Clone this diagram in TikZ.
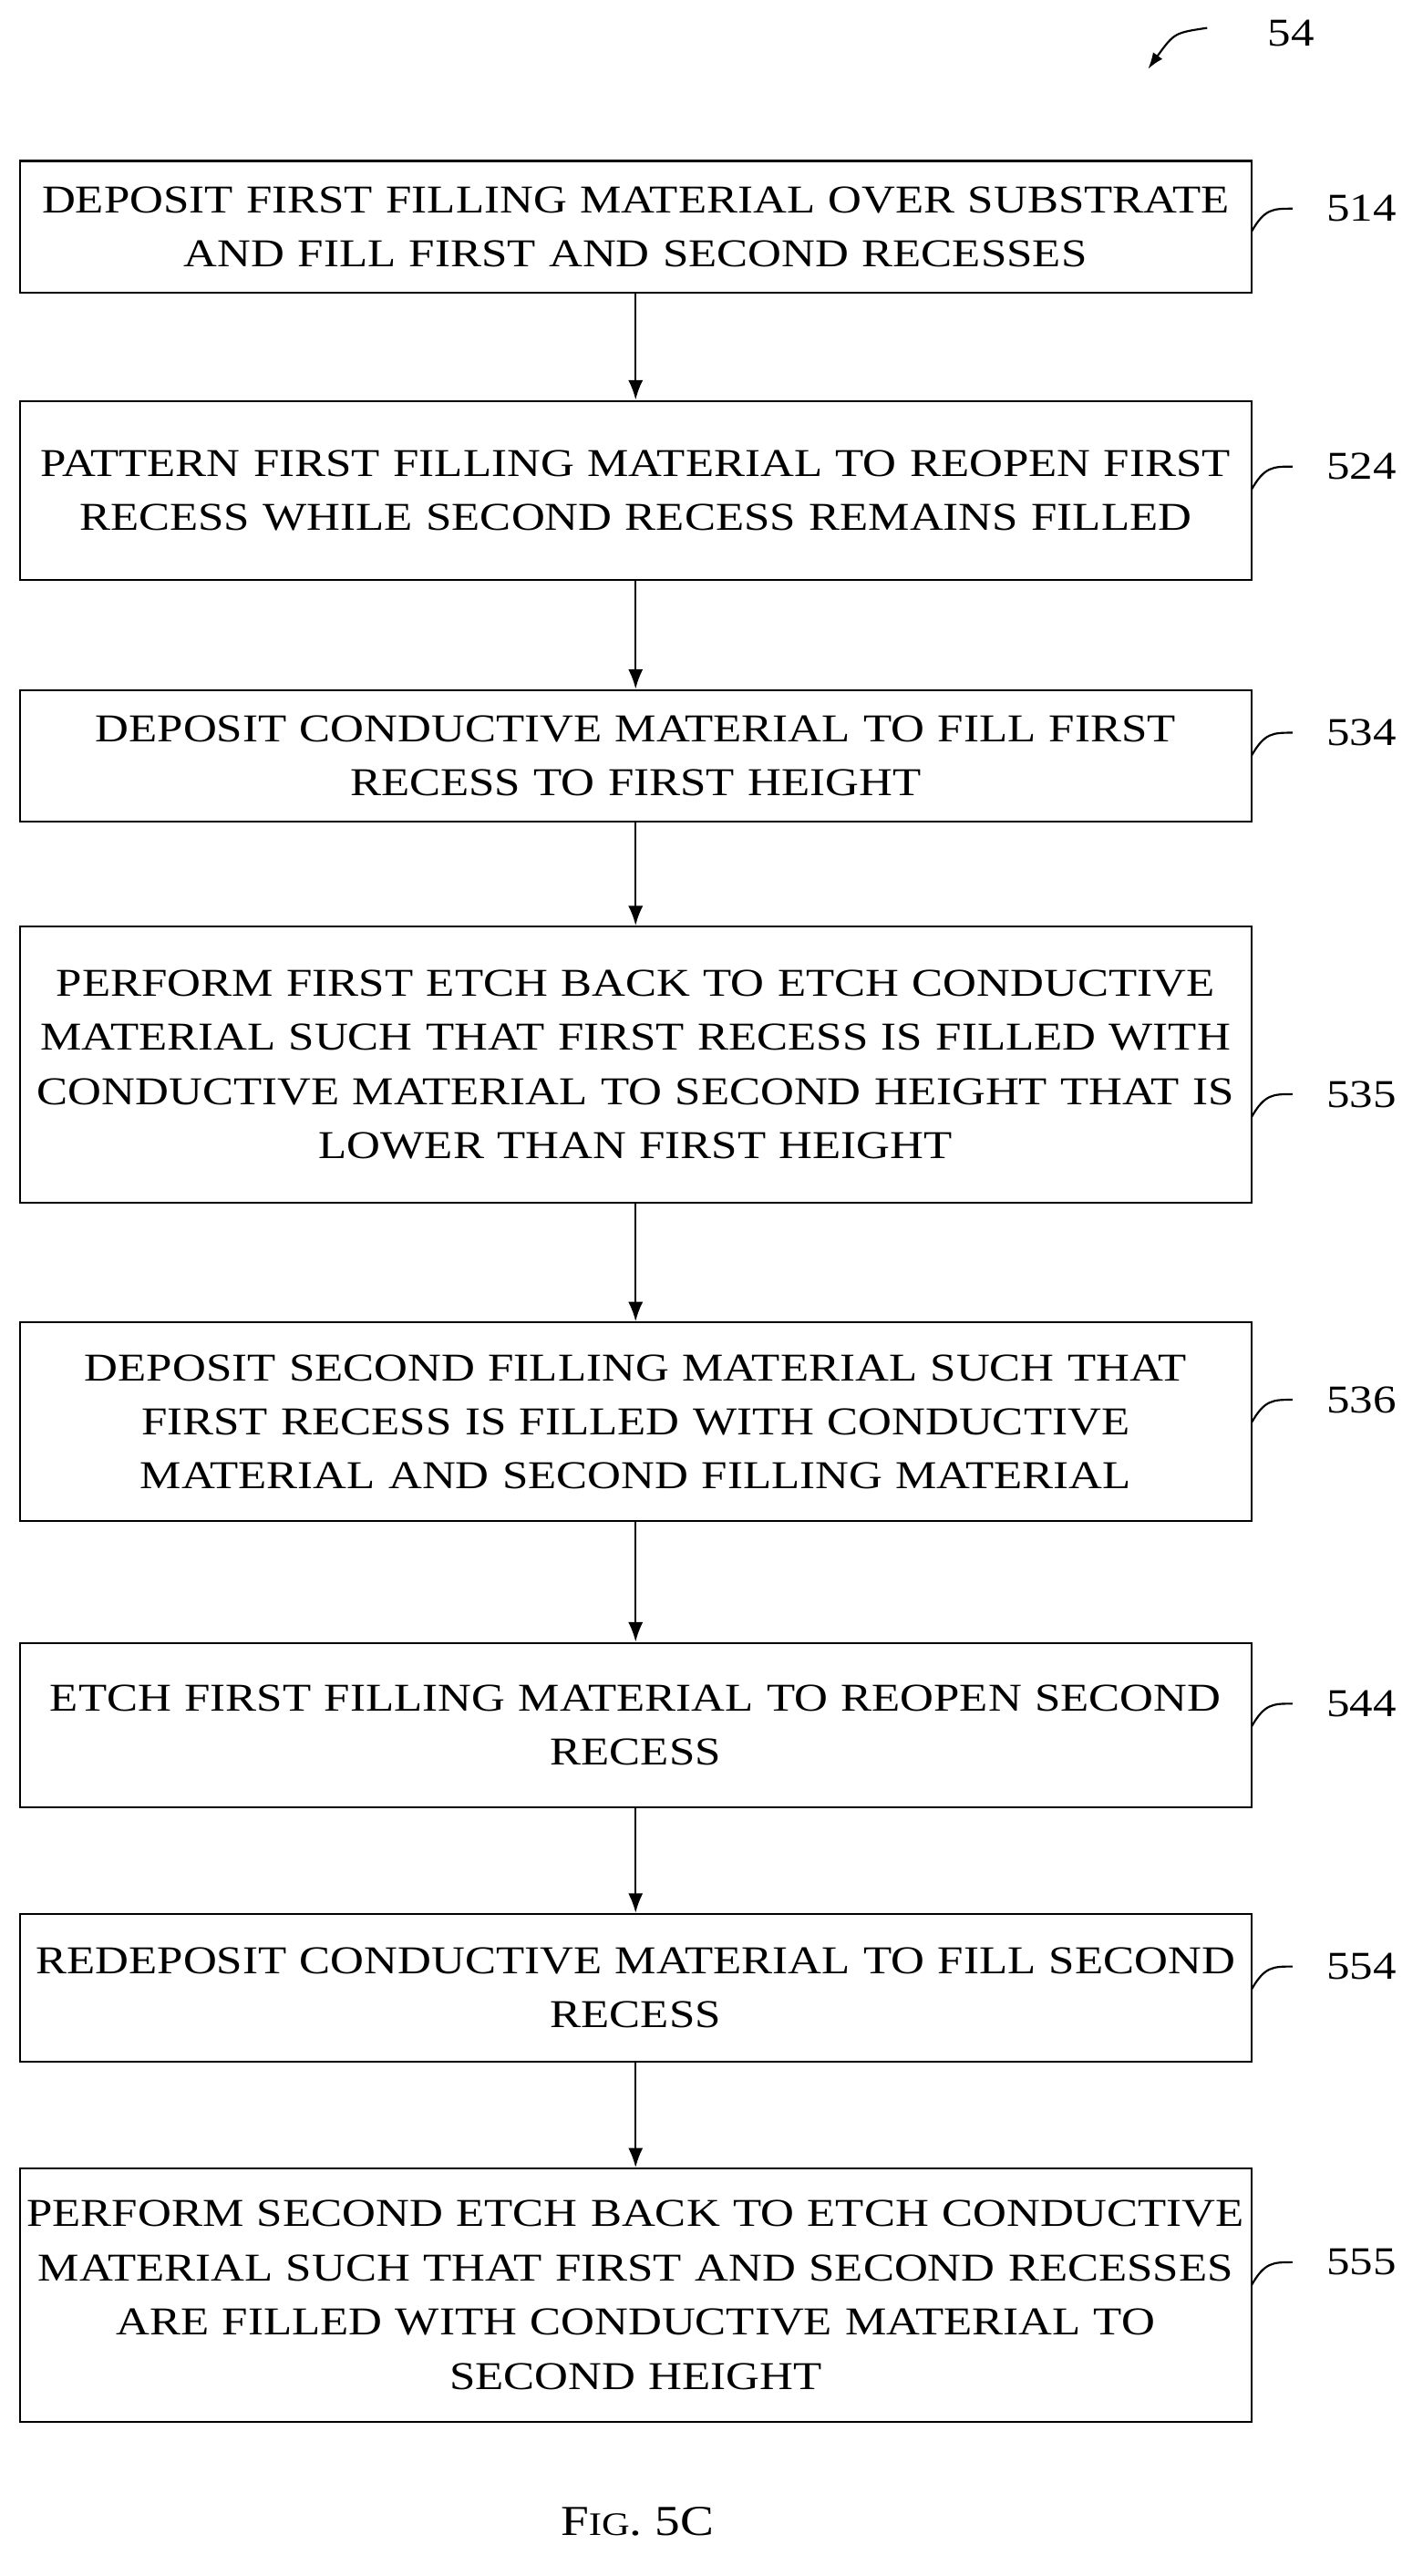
\documentclass[tikz,border=0pt]{standalone}
\usepackage{fontspec}
\setmainfont{Liberation Serif}[FakeStretch=1.18]
\begin{document}
\begin{tikzpicture}[x=1pt,y=-1pt,
  box/.style={draw,line width=1.2pt,minimum width=750pt,text width=748pt,align=center,inner sep=0pt,font=\fontsize{24}{33}\selectfont},
  arr/.style={-{Latex[length=12pt,width=9pt]},line width=1.3pt},
  lab/.style={font=\fontsize{24}{28}\selectfont},
  squig/.style={line width=1.2pt}]
\usetikzlibrary{arrows.meta}
\useasboundingbox (0,0) rectangle (866,1568);
\node[box,minimum height=80pt] (b1) at (387,138) {DEPOSIT FIRST FILLING MATERIAL OVER SUBSTRATE\\AND FILL FIRST AND SECOND RECESSES};
\node[box,minimum height=109pt] (b2) at (387,298.5) {PATTERN FIRST FILLING MATERIAL TO REOPEN FIRST\\RECESS WHILE SECOND RECESS REMAINS FILLED};
\node[box,minimum height=80pt] (b3) at (387,460) {DEPOSIT CONDUCTIVE MATERIAL TO FILL FIRST\\RECESS TO FIRST HEIGHT};
\node[box,minimum height=168pt] (b4) at (387,648) {PERFORM FIRST ETCH BACK TO ETCH CONDUCTIVE\\MATERIAL SUCH THAT FIRST RECESS IS FILLED WITH\\CONDUCTIVE MATERIAL TO SECOND HEIGHT THAT IS\\LOWER THAN FIRST HEIGHT};
\node[box,minimum height=121pt] (b5) at (387,865.5) {DEPOSIT SECOND FILLING MATERIAL SUCH THAT\\FIRST RECESS IS FILLED WITH CONDUCTIVE\\MATERIAL AND SECOND FILLING MATERIAL};
\node[box,minimum height=100pt] (b6) at (387,1050) {ETCH FIRST FILLING MATERIAL TO REOPEN SECOND\\RECESS};
\node[box,minimum height=90pt] (b7) at (387,1210) {REDEPOSIT CONDUCTIVE MATERIAL TO FILL SECOND\\RECESS};
\node[box,minimum height=154pt] (b8) at (387,1397) {PERFORM SECOND ETCH BACK TO ETCH CONDUCTIVE\\MATERIAL SUCH THAT FIRST AND SECOND RECESSES\\ARE FILLED WITH CONDUCTIVE MATERIAL TO\\SECOND HEIGHT};
\foreach \a/\b in {b1/b2,b2/b3,b3/b4,b4/b5,b5/b6,b6/b7,b7/b8} \draw[arr] (\a.south) -- (\b.north);
\foreach \n/\t/\y in {b1/514/127,b2/524/284,b3/534/446,b4/535/666,b5/536/852,b6/544/1037,b7/554/1197,b8/555/1377} {
  \node[lab] (l\t) at (829,\y) {\t};
  \coordinate (s\t) at (762,\y+14);
  \draw[squig] (s\t) .. controls (770,\y) and (775,\y) .. (787,\y);
}
\node[lab] (l54) at (786,20) {54};
\coordinate (a54) at (735,17);
\coordinate (e54) at (699,42);
\draw[-{Latex[length=10pt,width=7pt]},line width=1.2pt] (a54) .. controls (715,20) .. (e54);
\node[font=\fontsize{26}{30}\selectfont] (fig) at (388,1535) {F{\fontsize{20}{24}\selectfont IG}. 5C};
\end{tikzpicture}
\end{document}
